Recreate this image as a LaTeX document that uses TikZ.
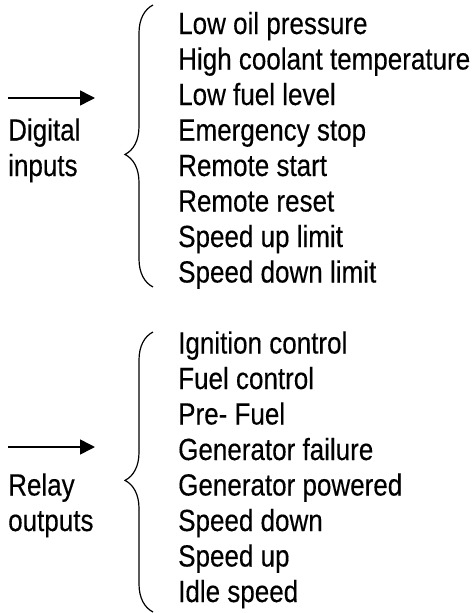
\documentclass[tikz,border=0pt]{standalone}
\usepackage{fontspec}
\setmainfont{Liberation Sans}[FakeStretch=0.85,FakeBold=0.3]
\usetikzlibrary{decorations.pathreplacing,arrows.meta}

\tikzstyle{item}=[anchor=base west,inner sep=0pt,font=\fontsize{30.6}{35.5}\selectfont]
\tikzstyle{feed}=[draw,line width=1.6pt,-{Triangle[length=15pt,width=15pt]}]
\tikzstyle{group}=[draw,line width=1.2pt,decorate,decoration={brace,amplitude=28pt,aspect=0.47}]
\newcommand{\rowpitch}{35.5}

\begin{document}
\begin{tikzpicture}[x=1pt,y=-1pt]
    \useasboundingbox (0,0) rectangle (473,613);
    % First the list items, one per row (row 8 stays empty)
    \foreach \row/\name/\text in {0/oil/Low oil pressure, 1/coolant/High coolant temperature,
        2/fuellvl/Low fuel level, 3/estop/Emergency stop, 4/rstart/Remote start,
        5/rreset/Remote reset, 6/uplim/Speed up limit, 7/downlim/Speed down limit,
        9/ignition/Ignition control, 10/fuelctl/Fuel control, 11/prefuel/Pre- Fuel,
        12/genfail/Generator failure, 13/genpow/Generator powered, 14/spdown/Speed down,
        15/spup/Speed up, 16/idle/Idle speed}
        \node[item] (\name) at (178, 34+\row*\rowpitch) {\text};
    % Then the group names on the left
    \foreach \row/\name/\text in {3/digital/Digital, 4/inputs/inputs,
        13/relay/Relay, 14/outputs/outputs}
        \node[item] (\name) at (8, 34+\row*\rowpitch) {\text};
    % Arrows over the group names
    \coordinate (dtail) at (8,98);   \coordinate (dhead) at (95,98);
    \coordinate (rtail) at (8,447);  \coordinate (rhead) at (95,447);
    \path[feed] (dtail) -- (dhead);
    \path[feed] (rtail) -- (rhead);
    % Braces round each list
    \coordinate (dtop) at (153,5);   \coordinate (dbot) at (153,287);
    \coordinate (rtop) at (153,332); \coordinate (rbot) at (153,612);
    \path[group] (dbot) -- (dtop);
    \path[group] (rbot) -- (rtop);
\end{tikzpicture}
\end{document}
